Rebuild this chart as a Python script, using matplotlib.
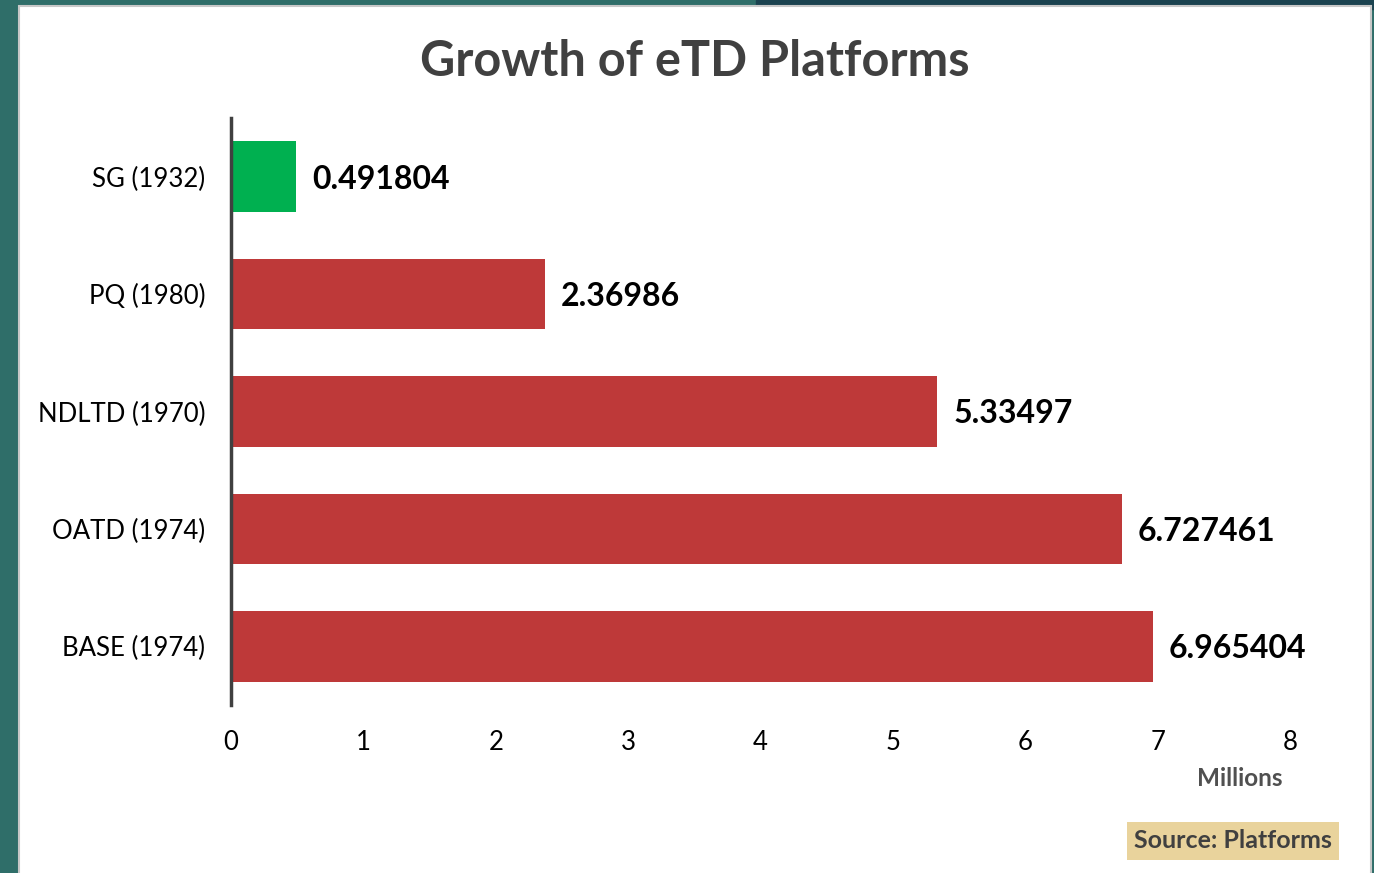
import matplotlib
matplotlib.use("Agg")
import matplotlib.pyplot as plt
from matplotlib.patches import Rectangle

labels = ["SG (1932)", "PQ (1980)", "NDLTD (1970)", "OATD (1974)", "BASE (1974)"]
values = [0.491804, 2.36986, 5.33497, 6.727461, 6.965404]
value_text = ["0.491804", "2.36986", "5.33497", "6.727461", "6.965404"]
colors = ["#00B050", "#BE3939", "#BE3939", "#BE3939", "#BE3939"]

plt.rcParams['font.family'] = ['Lato', 'DejaVu Sans']

fig = plt.figure(figsize=(13.74, 8.73), dpi=100)
fig.patch.set_facecolor("#2f6e69")
# dark strip at top right, white slide panel
fig.patches.append(Rectangle((0.55, 0.99), 0.45, 0.01, transform=fig.transFigure,
                             color="#1b4350", zorder=0))
fig.patches.append(Rectangle((19/1374, -0.01), 1352/1374, 1 - 6/873 + 0.01,
                             transform=fig.transFigure, facecolor="white",
                             edgecolor="#c8c8c8", lw=1.5, zorder=1))

ax = fig.add_axes([231/1374, 1 - 705/873, (1290 - 231)/1374, (705 - 118)/873])
ax.set_zorder(2)
ax.patch.set_alpha(0)

ypos = range(len(labels))
ax.barh(ypos, values, height=0.6, color=colors)
ax.set_xlim(0, 8)
ax.set_ylim(4.5, -0.5)
ax.set_yticks(list(ypos))
ax.set_yticklabels(labels)
ax.set_xticks(range(9))

for y, v, t in zip(ypos, values, value_text):
    ax.text(v + 0.12, y + 0.02, t, va="center", ha="left", fontsize=23,
            fontweight="bold", color="black")

for s in ["top", "right", "bottom"]:
    ax.spines[s].set_visible(False)
ax.spines["left"].set_linewidth(2.5)
ax.spines["left"].set_color("#404040")
ax.tick_params(axis="both", length=0, labelsize=18.5, colors="black")
ax.tick_params(axis="y", pad=18.5)
ax.tick_params(axis="x", pad=18)

fig.text(0.506, 0.93, "Growth of eTD Platforms", ha="center", va="center",
         fontsize=35, fontweight="bold", color="#404040", zorder=3)
fig.text(1240/1374, 1 - 778/873, "Millions", ha="center", va="center",
         fontsize=17.5, fontweight="bold", color="#505050", zorder=3)
fig.text(1233/1374, 1 - 841/873, "Source: Platforms", ha="center", va="center",
         fontsize=18, fontweight="bold", color="#404040", zorder=3,
         bbox=dict(boxstyle="square,pad=0.3", facecolor="#e9d39c", edgecolor="none"))

fig.savefig("out.png", dpi=100, facecolor=fig.get_facecolor())
